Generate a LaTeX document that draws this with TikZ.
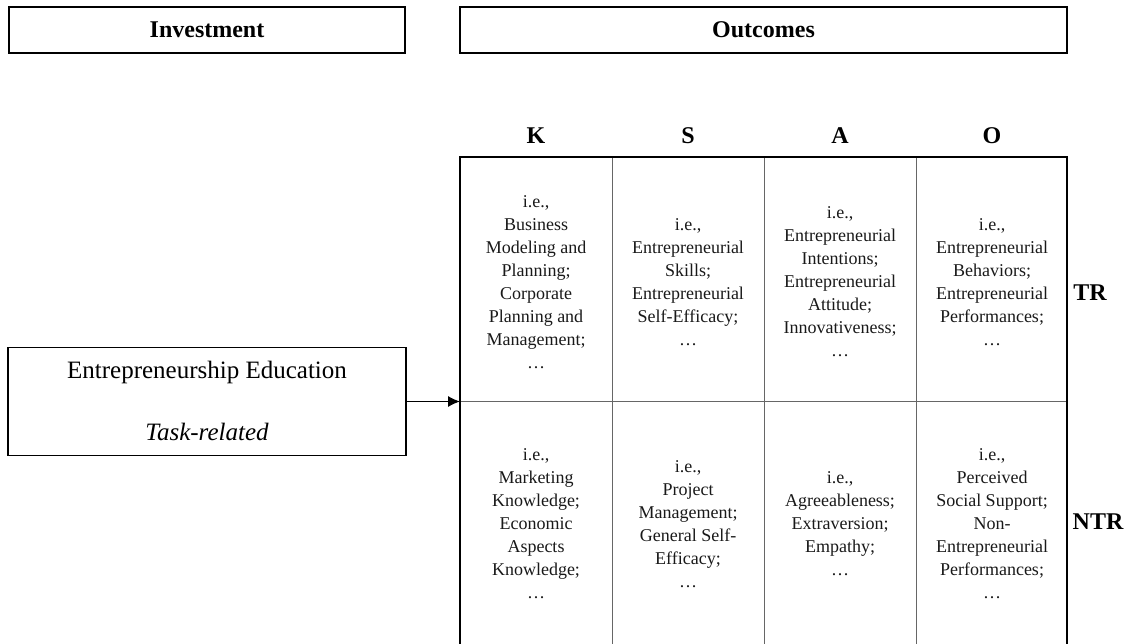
\documentclass[tikz,border=0pt]{standalone}
\usepackage{fontspec}
\setmainfont{Liberation Serif}
\usetikzlibrary{arrows.meta}
\begin{document}
\begin{tikzpicture}[x=1pt,y=-1pt,
  topbox/.style={draw=black,line width=1.6pt,minimum height=46pt,inner sep=0pt,font=\bfseries\fontsize{24}{28}\selectfont},
  hdr/.style={font=\bfseries\fontsize{24}{28}\selectfont,anchor=base},
  cell/.style={align=center,font=\fontsize{18}{23}\selectfont,text=black!90,inner sep=0pt},
  inner/.style={draw=black!60,line width=0.9pt},
  outer/.style={draw=black,line width=1.6pt},
  arr/.style={-{Latex[length=12pt,width=11pt]},line width=1pt}]
\useasboundingbox (0,0) rectangle (1131,644);
% top boxes
\node[topbox,minimum width=396pt] (inv) at (207,30) {Investment};
\node[topbox,minimum width=607pt] (out) at (763.5,30) {Outcomes};
% column headers
\node[hdr] (hK) at (536,144) {K};
\node[hdr] (hS) at (688,144) {S};
\node[hdr] (hA) at (840,144) {A};
\node[hdr] (hO) at (992,144) {O};
% grid
\coordinate (gTL) at (460,157);
\coordinate (gTR) at (1067,157);
\coordinate (gBL) at (460,650);
\coordinate (gBR) at (1067,650);
\coordinate (gW) at (460,401.5);
\coordinate (gE) at (1067,401.5);
\draw[inner] (612,157) -- (612,650);
\draw[inner] (764,157) -- (764,650);
\draw[inner] (916,157) -- (916,650);
\draw[inner] (gW) -- (gE);
\draw[outer] (gBL) -- (gTL) -- (gTR) -- (gBR);
% row labels
\node[hdr,anchor=center] (tr) at (1090,293) {TR};
\node[hdr,anchor=center] (ntr) at (1098,522) {NTR};
% cells
\node[cell] (kt) at (536,282) {i.e.,\\Business\\Modeling and\\Planning;\\Corporate\\Planning and\\Management;\\…};
\node[cell] (st) at (688,282) {i.e.,\\Entrepreneurial\\Skills;\\Entrepreneurial\\Self-Efficacy;\\…};
\node[cell] (at) at (840,282) {i.e.,\\Entrepreneurial\\Intentions;\\Entrepreneurial\\Attitude;\\Innovativeness;\\…};
\node[cell] (ot) at (992,282) {i.e.,\\Entrepreneurial\\Behaviors;\\Entrepreneurial\\Performances;\\…};
\node[cell] (kn) at (536,524) {i.e.,\\Marketing\\Knowledge;\\Economic\\Aspects\\Knowledge;\\…};
\node[cell] (sn) at (688,524) {i.e.,\\Project\\Management;\\General Self-\\Efficacy;\\…};
\node[cell] (an) at (840,524) {i.e.,\\Agreeableness;\\Extraversion;\\Empathy;\\…};
\node[cell] (on) at (992,524) {i.e.,\\Perceived\\Social Support;\\Non-\\Entrepreneurial\\Performances;\\…};
% left box
\node[draw=black,line width=1.4pt,minimum width=398pt,minimum height=108pt,inner sep=0pt] (ee) at (207,401.5) {};
\node[font=\fontsize{25}{30}\selectfont] (eet) at (207,372) {Entrepreneurship Education};
\node[font=\itshape\fontsize{25}{30}\selectfont] (eei) at (207,432) {Task-related};
\draw[arr] (ee.east) -- (gW);
\end{tikzpicture}
\end{document}
